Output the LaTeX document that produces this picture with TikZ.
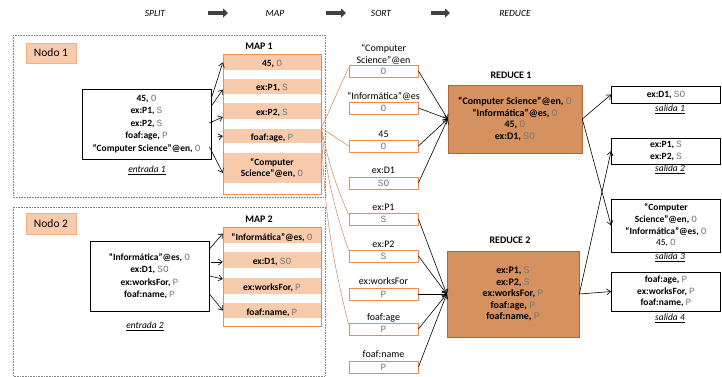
\documentclass[tikz,border=0pt]{standalone}
\usepackage{fontspec}
\setmainfont{Carlito}
\newfontfamily\monofam{Liberation Mono}
\usetikzlibrary{arrows.meta,calc}
\definecolor{peach}{RGB}{248,203,173}
\definecolor{peachline}{RGB}{244,177,131}
\definecolor{orangeline}{RGB}{240,140,75}
\definecolor{reducefill}{RGB}{214,145,96}
\definecolor{reduceline}{RGB}{170,105,60}
\definecolor{symgray}{RGB}{120,120,120}
\definecolor{framegray}{RGB}{130,130,130}
\definecolor{linkbrown}{RGB}{195,125,85}
\definecolor{hdarrowgray}{RGB}{64,64,64}
% grey monospace role tag (O, S, P, SO)
\newcommand\cls[1]{{\monofam\mdseries\color{symgray}#1}}
\begin{document}
\begin{tikzpicture}[x=1pt,y=-1pt,
  frame/.style={draw=framegray, densely dotted, line width=0.6pt},
  nodolabel/.style={draw=peachline, fill=peach, minimum width=50pt, inner sep=0pt, font=\fontsize{11.5}{13}\selectfont},
  inbox/.style={draw=black, line width=0.9pt, inner sep=0pt, align=center, font=\bfseries\fontsize{9.5}{12.5}\selectfont},
  caption/.style={font=\itshape\fontsize{9.5}{11}\selectfont},
  maptitle/.style={font=\bfseries\fontsize{10}{12}\selectfont},
  mapframe/.style={draw=orangeline, line width=0.8pt, inner sep=0pt, minimum width=98pt},
  band/.style={fill=peach, minimum width=98pt, inner sep=0pt, text height=9pt, text depth=0pt, font=\bfseries\fontsize{9.5}{11.5}\selectfont},
  sortbox/.style={draw=orangeline, line width=0.8pt, fill=white, minimum width=69pt, minimum height=12pt, inner sep=0pt, font=\fontsize{9.5}{10}\selectfont},
  sortlabel/.style={align=center, inner sep=0pt, font=\fontsize{10}{12}\selectfont},
  reducebox/.style={draw=reduceline, fill=reducefill, line width=0.6pt, align=center, inner sep=0pt, font=\bfseries\fontsize{10}{11.6}\selectfont},
  outbox/.style={draw=black, line width=0.8pt, minimum width=109pt, inner sep=0pt, align=center, font=\bfseries\fontsize{9.5}{11.7}\selectfont},
  feed/.style={-{Straight Barb[length=4pt,width=6pt]}, line width=0.6pt},
  link/.style={draw=linkbrown, line width=0.45pt},
  hdr/.style={font=\itshape\fontsize{9.5}{11}\selectfont},
  hdarrow/.style={draw=hdarrowgray, line width=3.5pt, -{Triangle[length=5pt,width=9pt]}}
]
\fill[white] (0,0) rectangle (722,377);
\useasboundingbox (0,0) rectangle (722,377);

% stage headings
\node[hdr] (hSplit) at (155,13) {SPLIT};
\node[hdr] (hMap) at (275,13) {MAP};
\node[hdr] (hSort) at (381,13) {SORT};
\node[hdr] (hReduce) at (515,13) {REDUCE};
\coordinate (ha1) at (208,13); \coordinate (hb1) at (228,13);
\coordinate (ha2) at (326,13); \coordinate (hb2) at (346,13);
\coordinate (ha3) at (431,13); \coordinate (hb3) at (450,13);
\draw[hdarrow] (ha1) -- (hb1);
\draw[hdarrow] (ha2) -- (hb2);
\draw[hdarrow] (ha3) -- (hb3);

% cluster nodes
\draw[frame] (13,35) rectangle (325,197);
\draw[frame] (13,207) rectangle (325,376);
\node[nodolabel, minimum height=20pt] (nd1) at (51,53) {Nodo 1};
\node[nodolabel, minimum height=21pt] (nd2) at (51,223.5) {Nodo 2};

% input splits
\node[inbox, minimum width=129pt, minimum height=70pt] (e1) at (146.5,124)
  {45, \cls{O}\\ex:P1, \cls{S}\\ex:P2, \cls{S}\\foaf:age, \cls{P}\\“Computer Science”@en, \cls{O}};
\node[caption] (c1) at (147,170) {\underline{entrada 1}};
\node[inbox, minimum width=119pt, minimum height=70pt] (e2) at (149.5,276)
  {“Informática”@es, \cls{O}\\ex:D1, \cls{SO}\\ex:worksFor, \cls{P}\\foaf:name, \cls{P}};
\node[caption] (c2) at (145,326) {\underline{entrada 2}};

% map 1
\node[maptitle] (t1) at (259,46) {MAP 1};
\node[band, minimum height=15pt] (m1a) at (272,62.5) {45, \cls{O}};
\node[band, minimum height=15pt] (m1b) at (272,86.5) {ex:P1, \cls{S}};
\node[band, minimum height=16pt] (m1c) at (272,111) {ex:P2, \cls{S}};
\node[band, minimum height=14pt] (m1d) at (272,136) {foaf:age, \cls{P}};
\node[band, minimum height=30pt, align=center, text height=, text depth=] (m1e) at (272,168) {“Computer\\Science”@en, \cls{O}};
\node[mapframe, minimum height=140pt] (map1) at (272,124) {};

% map 2
\node[maptitle] (t2) at (259,219) {MAP 2};
\node[band, minimum height=15pt] (m2a) at (272,235.5) {“Informática”@es, \cls{O}};
\node[band, minimum height=16pt] (m2b) at (272,260) {ex:D1, \cls{SO}};
\node[band, minimum height=16pt] (m2c) at (272,286) {ex:worksFor, \cls{P}};
\node[band, minimum height=15pt] (m2d) at (272,310.5) {foaf:name, \cls{P}};
\node[mapframe, minimum height=99pt] (map2) at (272,276.5) {};

% split -> map
\draw[feed] ([yshift=26pt]e1.east) -- (m1a.west);
\draw[feed] ([yshift=18pt]e1.east) -- ([yshift=-3pt]m1b.west);
\draw[feed] ([xshift=-2pt,yshift=1pt]e1.east) -- ([yshift=-6pt]m1c.west);
\draw[feed] ([xshift=6pt,yshift=-13pt]e1.east) -- (m1d.west);
\draw[feed] ([xshift=-2pt,yshift=-23pt]e1.east) -- ([yshift=-5pt]m1e.west);
\draw[feed] ([yshift=27pt]e2.east) -- ([yshift=2pt]m2a.west);
\draw[feed] ([xshift=2pt,yshift=14pt]e2.east) -- ([yshift=-2pt]m2b.west);
\draw[feed] (e2.east) -- ([yshift=7pt]m2c.west);
\draw[feed] ([yshift=-18pt]e2.east) -- (m2d.west);

% sorted keys
\node[sortbox] (s1) at (383.5,71) {\cls{O}};
\node[sortbox] (s2) at (383.5,108) {\cls{O}};
\node[sortbox] (s3) at (383.5,146) {\cls{O}};
\node[sortbox] (s4) at (383.5,183) {\cls{SO}};
\node[sortbox] (s5) at (383.5,219) {\cls{S}};
\node[sortbox] (s6) at (383.5,256) {\cls{S}};
\node[sortbox] (s7) at (383.5,294) {\cls{P}};
\node[sortbox] (s8) at (383.5,329) {\cls{P}};
\node[sortbox] (s9) at (383.5,367) {\cls{P}};
\node[sortlabel] (sl1) at (383.5,54) {“Computer\\Science”@en};
\node[sortlabel] (sl2) at (383.5,96) {“Informática”@es};
\node[sortlabel] (sl3) at (383.5,134) {45};
\node[sortlabel] (sl4) at (383.5,170) {ex:D1};
\node[sortlabel] (sl5) at (383.5,207) {ex:P1};
\node[sortlabel] (sl6) at (383.5,244) {ex:P2};
\node[sortlabel] (sl7) at (383.5,281) {ex:worksFor};
\node[sortlabel] (sl8) at (383.5,318) {foaf:age};
\node[sortlabel] (sl9) at (383.5,354) {foaf:name};

% map 1 -> sorted keys
\coordinate (mj) at ([yshift=-4pt]map1.east);
\draw[link] (mj) -- ([yshift=-3pt]s1.north west);
\draw[link] (mj) -- (s3.west);
\draw[link] (mj) to[bend right=6] ([yshift=-2pt]s5.north west);
\draw[link] (mj) to[bend right=6] ([yshift=-1pt]s6.north west);
\draw[link] (mj) to[bend right=6] ([yshift=-2pt]s8.north west);

% reducers
\node[maptitle] (rt1) at (511,75) {REDUCE 1};
\node[reducebox, minimum width=134pt, minimum height=68pt] (r1) at (515,119)
  {“Computer Science”@en, \cls{O}\\“Informática”@es, \cls{O}\\45, \cls{O}\\ex:D1, \cls{SO}};
\node[maptitle] (rt2) at (510,240) {REDUCE 2};
\node[reducebox, minimum width=132pt, minimum height=86pt] (r2) at (513,294)
  {ex:P1, \cls{S}\\ex:P2, \cls{S}\\ex:worksFor, \cls{P}\\foaf:age, \cls{P}\\foaf:name, \cls{P}};

\foreach \s in {s1,s2,s3,s4} \draw[feed] (\s.east) -- (r1.west);
\foreach \s in {s5,s6,s7,s8,s9} \draw[feed] (\s.east) -- (r2.west);

% outputs
\node[outbox, minimum height=17pt] (o1) at (666,94.5) {ex:D1, \cls{SO}};
\node[caption] (oc1) at (670,109) {\underline{salida 1}};
\node[outbox, minimum height=26pt] (o2) at (666,151) {ex:P1, \cls{S}\\ex:P2, \cls{S}};
\node[caption] (oc2) at (670,169) {\underline{salida 2}};
\node[outbox, minimum height=53pt] (o3) at (666,225.5)
  {“Computer\\Science”@en, \cls{O}\\“Informática”@es, \cls{O}\\{\mdseries 45,} \cls{O}};
\node[caption] (oc3) at (670,257) {\underline{salida 3}};
\node[outbox, minimum height=39pt] (o4) at (666,291.5)
  {foaf:age, \cls{P}\\ex:worksFor, \cls{P}\\foaf:name, \cls{P}};
\node[caption] (oc4) at (670,318) {\underline{salida 4}};

\draw[feed] (r1.east) -- (o1.west);
\draw[feed] (r1.east) -- (o3.west);
\draw[feed] (r2.east) -- (o2.west);
\draw[feed] (r2.east) -- (o4.west);
\end{tikzpicture}
\end{document}
